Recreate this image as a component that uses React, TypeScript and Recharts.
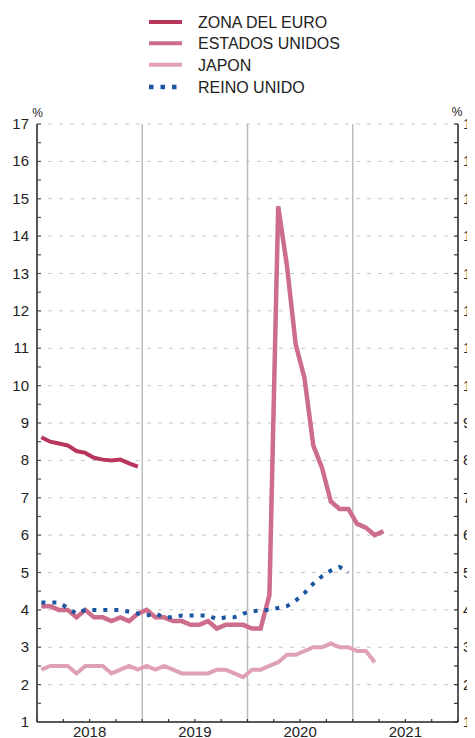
import React from "react";
import { LineChart, Line, XAxis, YAxis, CartesianGrid } from "recharts";

// monthly values, Jan 2018 onwards
const EURO = [8.62, 8.5, 8.45, 8.4, 8.25, 8.2, 8.07, 8.02, 8.0, 8.02, 7.92, 7.83];
const US = [
  4.1, 4.1, 4.0, 4.0, 3.8, 4.0, 3.8, 3.8, 3.7, 3.8, 3.7, 3.9,
  4.0, 3.8, 3.8, 3.7, 3.7, 3.6, 3.6, 3.7, 3.5, 3.6, 3.6, 3.6,
  3.5, 3.5, 4.4, 14.8, 13.2, 11.1, 10.2, 8.4, 7.8, 6.9, 6.7, 6.7,
  6.3, 6.2, 6.0, 6.1,
];
const JAPAN = [
  2.4, 2.5, 2.5, 2.5, 2.3, 2.5, 2.5, 2.5, 2.3, 2.4, 2.5, 2.4,
  2.5, 2.4, 2.5, 2.4, 2.3, 2.3, 2.3, 2.3, 2.4, 2.4, 2.3, 2.2,
  2.4, 2.4, 2.5, 2.6, 2.8, 2.8, 2.9, 3.0, 3.0, 3.1, 3.0, 3.0,
  2.9, 2.9, 2.6,
];
const UK = [
  4.2, 4.2, 4.2, 4.05, 3.9, 4.0, 4.0, 4.0, 4.0, 4.0, 3.95, 3.9,
  3.85, 3.9, 3.8, 3.8, 3.85, 3.85, 3.85, 3.85, 3.75, 3.8, 3.8, 3.9,
  3.95, 4.0, 4.0, 4.05, 4.1, 4.25, 4.45, 4.7, 4.9, 5.05, 5.15, 5.0,
];

const YEARS = ["2018", "2019", "2020", "2021"];
const MONTH_COUNT = YEARS.length * 12;
const X_TICKS = Array.from({ length: MONTH_COUNT / 3 + 1 }, (_, i) => i * 3);
const YEAR_LINES = [12, 24, 36];
const Y_TICKS = Array.from({ length: 33 }, (_, i) => 1 + i * 0.5);
const Y_GRID = [2, 3, 4, 5, 6, 7, 8, 9, 10, 11, 12, 13, 14, 15, 16, 17];

const SERIES = [
  { key: "euro", name: "ZONA DEL EURO", values: EURO, color: "#b8365c", width: 4, dash: undefined },
  { key: "us", name: "ESTADOS UNIDOS", values: US, color: "#cd6d8b", width: 4.5, dash: undefined },
  { key: "japan", name: "JAPON", values: JAPAN, color: "#e0a1b6", width: 4, dash: undefined },
  { key: "uk", name: "REINO UNIDO", values: UK, color: "#1a56a4", width: 4, dash: "4 7" },
];

const data = Array.from({ length: 40 }, (_, i) => {
  const row: Record<string, number | undefined> = { t: i + 0.5 };
  SERIES.forEach((s) => {
    row[s.key] = s.values[i];
  });
  return row;
});

const FONT = "'Liberation Sans', Arial, sans-serif";

function LeftTick(props: any) {
  const { x, y, payload } = props;
  const major = Number.isInteger(payload.value);
  return (
    <g>
      <line x1={x} x2={x + 4} y1={y} y2={y} stroke="#555" strokeWidth={1.2} />
      {major && (
        <text x={x - 8} y={y + 5} textAnchor="end" fontSize={15} fill="#222" fontFamily={FONT}>
          {payload.value}
        </text>
      )}
    </g>
  );
}

function RightTick(props: any) {
  const { x, y, payload } = props;
  const major = Number.isInteger(payload.value);
  return (
    <g>
      <line x1={x} x2={x - 4} y1={y} y2={y} stroke="#333" strokeWidth={1.2} />
      {major && (
        <text x={x + 5} y={y + 5} textAnchor="start" fontSize={15} fill="#222" fontFamily={FONT}>
          {payload.value}
        </text>
      )}
    </g>
  );
}

function BottomTick(props: any) {
  const { x, y, payload } = props;
  const v = payload.value as number;
  const isLabel = v % 12 === 6;
  return (
    <g>
      <line x1={x} x2={x} y1={y} y2={y - 3} stroke="#333" strokeWidth={1.2} />
      {isLabel && (
        <text x={x} y={y + 14.5} textAnchor="middle" fontSize={15} fill="#222" fontFamily={FONT}>
          {YEARS[(v - 6) / 12]}
        </text>
      )}
    </g>
  );
}

const LEGEND_ROWS = [14, 35.3, 56.7, 79];

export default function App() {
  return (
    <div style={{ position: "relative", width: 467, height: 730, fontFamily: FONT }}>
      <LineChart
        width={467}
        height={730}
        data={data}
        margin={{ top: 116, right: 0, bottom: 0, left: 0 }}
      >
        <CartesianGrid
          horizontal={true}
          vertical={false}
          horizontalValues={Y_GRID}
          stroke="#c6c6c6"
          strokeDasharray="4 7"
        />
        <CartesianGrid
          horizontal={false}
          vertical={true}
          verticalValues={YEAR_LINES}
          stroke="#bdbdbd"
          strokeWidth={1.5}
        />
        <XAxis
          type="number"
          dataKey="t"
          domain={[0, MONTH_COUNT]}
          ticks={X_TICKS}
          interval={0}
          height={16}
          tickSize={0}
          tickMargin={0}
          tickLine={false}
          tick={<BottomTick />}
          axisLine={{ stroke: "#222", strokeWidth: 1.5 }}
        />
        <YAxis
          domain={[1, 17]}
          ticks={Y_TICKS}
          interval={0}
          width={29}
          tickSize={0}
          tickMargin={0}
          tickLine={false}
          tick={<LeftTick />}
          axisLine={{ stroke: "#555", strokeWidth: 2 }}
          allowDataOverflow
        />
        <YAxis
          yAxisId="right"
          orientation="right"
          domain={[1, 17]}
          ticks={Y_TICKS}
          interval={0}
          width={17}
          tickSize={0}
          tickMargin={0}
          tickLine={false}
          tick={<RightTick />}
          axisLine={{ stroke: "#222", strokeWidth: 1.5 }}
          allowDataOverflow
        />
        {SERIES.map((s) => (
          <Line
            key={s.key}
            dataKey={s.key}
            name={s.name}
            stroke={s.color}
            strokeWidth={s.width}
            strokeDasharray={s.dash}
            dot={false}
            activeDot={false}
            isAnimationActive={false}
            type="linear"
          />
        ))}
      </LineChart>
      <svg
        width={467}
        height={120}
        style={{ position: "absolute", left: 0, top: 0, pointerEvents: "none" }}
      >
        {SERIES.map((s, i) => (
          <g key={s.key}>
            <line
              x1={141}
              x2={s.dash ? 171 : 174}
              y1={LEGEND_ROWS[i]}
              y2={LEGEND_ROWS[i]}
              stroke={s.color}
              strokeWidth={s.dash ? 4.5 : 4}
              strokeDasharray={s.dash ? "4.5 7" : undefined}
            />
            <text x={190} y={LEGEND_ROWS[i] + 5.8} fontSize={16} fill="#222" fontFamily={FONT}>
              {s.name}
            </text>
          </g>
        ))}
        <text x={29.5} y={109} textAnchor="middle" fontSize={12} fill="#222" fontFamily={FONT}>
          %
        </text>
        <text x={449} y={108} textAnchor="middle" fontSize={12} fill="#222" fontFamily={FONT}>
          %
        </text>
      </svg>
    </div>
  );
}
